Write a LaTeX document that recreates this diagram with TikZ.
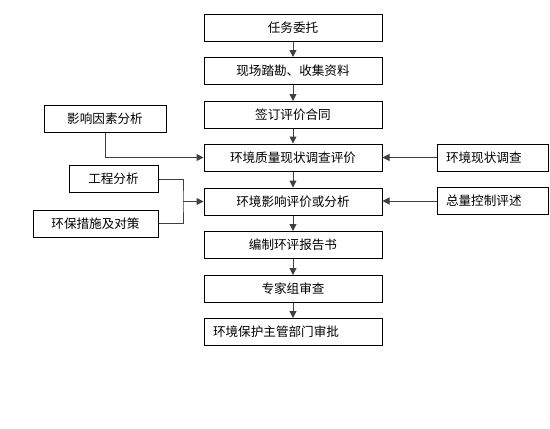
\documentclass[tikz,border=0pt]{standalone}
\usepackage{fontspec}
\setmainfont{Noto Sans CJK SC}
\usetikzlibrary{arrows.meta}
\begin{document}
\begin{tikzpicture}[x=1pt,y=-1pt,
  >={Triangle[length=7pt,width=7pt]},
  box/.style={draw,line width=1pt,inner sep=0pt,minimum height=27pt,font=\fontsize{12.6pt}{14pt}\selectfont},
  mainbox/.style={box,minimum width=178pt},
  leftbox/.style={box,text width=93pt,inner xsep=9pt,align=left},
  line/.style={line width=1pt,black!75}]
\useasboundingbox (0,0) rectangle (550,429);
\node[mainbox] (task) at (293,27.5) {任务委托};
\node[mainbox] (survey) at (293,71) {现场踏勘、收集资料};
\node[mainbox] (contract) at (293,115) {签订评价合同};
\node[mainbox] (quality) at (293,157.5) {环境质量现状调查评价};
\node[mainbox] (impact) at (293,201.5) {环境影响评价或分析};
\node[mainbox] (report) at (293,245) {编制环评报告书};
\node[mainbox] (review) at (293,289) {专家组审查};
\node[box,text width=160pt,inner xsep=9pt,align=left] (approve) at (293,332) {环境保护主管部门审批};
\node[box,minimum width=122pt] (factor) at (105,118.5) {影响因素分析};
\node[box,minimum width=89pt] (eng) at (113.5,179) {工程分析};
\node[box,minimum width=125pt] (measure) at (95.5,223.5) {环保措施及对策};
\node[leftbox] (status) at (492.5,157.5) {环境现状调查};
\node[leftbox] (total) at (492.5,201) {总量控制评述};
\coordinate (join) at (183,201.5);
\draw [line,->] (task) -- (survey);
\draw [line,->] (survey) -- (contract);
\draw [line,->] (contract) -- (quality);
\draw [line,->] (quality) -- (impact);
\draw [line,->] (impact) -- (report);
\draw [line,->] (report) -- (review);
\draw [line,->] (review) -- (approve);
\draw [line,->] (factor.south) |- (quality.west);
\draw [line] (eng.east) -| (join) |- (measure.east);
\draw [line,->] (join) -- (impact.west);
\draw [line,->] (status) -- (quality);
\draw [line,->] (total.west) -- (total.west -| impact.east);
\end{tikzpicture}
\end{document}
